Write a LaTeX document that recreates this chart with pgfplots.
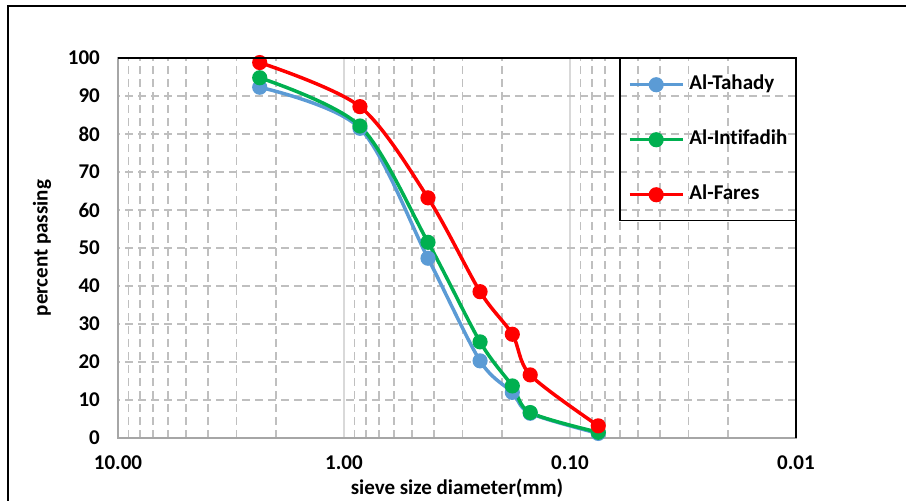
\documentclass[border=0pt]{standalone}
\usepackage{fontspec}
\setmainfont{Carlito}[Ligatures=CommonOff]
\usepackage{pgfplots}
\pgfplotsset{compat=1.18}

\definecolor{tahady}{RGB}{91,155,213}
\definecolor{intif}{RGB}{0,176,80}
\definecolor{fares}{RGB}{255,0,0}
\definecolor{gridgray}{RGB}{191,191,191}
\definecolor{majgray}{RGB}{217,217,217}
\definecolor{axisgray}{RGB}{166,166,166}

\newcommand{\chartfont}{\fontsize{21bp}{25bp}\selectfont\bfseries}

\begin{document}
\begin{tikzpicture}[x=1bp,y=1bp]
\useasboundingbox (-118,-63) rectangle (788,438);
% chart frame
\draw[line width=2bp] (-110,-80) -- (-110,432) -- (800,432);
\begin{axis}[
  at={(0,0)}, anchor=south west,
  scale only axis, width=678bp, height=380bp,
  xmode=log, x dir=reverse,
  xmin=0.01, xmax=10, ymin=0, ymax=100,
  xtick={10,1,0.1,0.01},
  xticklabels={10.00,1.00,0.10,0.01},
  minor xtick={0.02,0.03,0.04,0.05,0.06,0.07,0.08,0.09,
               0.2,0.3,0.4,0.5,0.6,0.7,0.8,0.9,
               2,3,4,5,6,7,8,9},
  ytick={0,10,...,100},
  major tick length=0pt, minor tick length=0pt,
  xmajorgrids, xminorgrids, ymajorgrids,
  major x grid style={draw=majgray, line width=1.3bp},
  minor x grid style={draw=gridgray, line width=1.3bp, dash pattern=on 8bp off 5bp},
  major y grid style={draw=gridgray, line width=1.3bp, dash pattern=on 8bp off 5bp},
  axis line style={draw=axisgray, line width=1.5bp},
  /pgf/number format/assume math mode=true,
  ticklabel style={font=\chartfont, inner sep=0pt},
  yticklabel style={anchor=east, xshift=-18bp},
  xticklabel style={anchor=north, yshift=-18bp},
  xlabel={sieve size diameter(mm)},
  ylabel={percent passing},
  label style={font=\chartfont, inner sep=0pt},
  xlabel style={at={(axis description cs:0.5,-0.1316)}, anchor=center},
  ylabel style={at={(axis description cs:-0.1121,0.5)}, anchor=center},
  legend style={at={(rel axis cs:1,1)}, anchor=north east,
    draw=black, line width=1.5bp, fill=none,
    inner xsep=8bp, inner ysep=17bp, row sep=37bp, column sep=5bp,
    font=\chartfont,
    nodes={inner sep=0pt, text height=14bp, text depth=4bp}},
  legend cell align=left,
  legend image code/.code={\draw[#1,mark repeat=2,mark phase=2]
    plot coordinates {(0bp,0bp) (26.5bp,0bp) (53bp,0bp)};},
  every axis plot/.append style={smooth, tension=0.5, line width=3.5bp,
    mark=*, mark size=5.8bp, mark options={solid}},
]
\addplot[color=tahady] coordinates {
  (2.36,92.3) (0.85,81.5) (0.425,47.3) (0.25,20.3) (0.18,12.0) (0.15,6.5) (0.075,1.2)};
\addlegendentry{Al-Tahady}
\addplot[color=intif] coordinates {
  (2.36,94.8) (0.85,82.1) (0.425,51.5) (0.25,25.3) (0.18,13.7) (0.15,6.7) (0.075,1.5)};
\addlegendentry{Al-Intifadih}
\addplot[color=fares] coordinates {
  (2.36,98.8) (0.85,87.2) (0.425,63.2) (0.25,38.5) (0.18,27.3) (0.15,16.6) (0.075,3.2)};
\addlegendentry{Al-Fares}
\end{axis}
% plot area border, top and right
\draw[line width=1.5bp] (0,380) -- (678,380) -- (678,0);
\end{tikzpicture}
\end{document}
